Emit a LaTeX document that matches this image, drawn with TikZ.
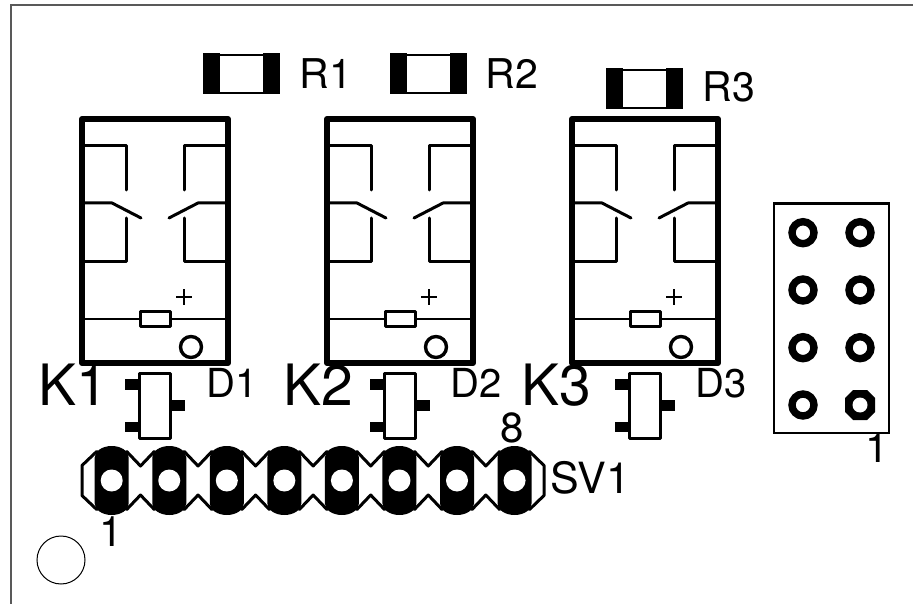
\documentclass[tikz,border=0pt]{standalone}
\usepackage{fontspec}
\setmainfont{TeX Gyre Heros}
\usepackage{tikz}
\usetikzlibrary{positioning}
\tikzset{
  lbl/.style={inner sep=0pt,anchor=base west,font=\fontsize{40}{42}\selectfont},
  lblwide/.style={inner sep=0pt,anchor=base west,font=\fontsize{41}{43}\selectfont},
  lblbig/.style={inner sep=0pt,anchor=base west,font=\fontsize{57}{59}\selectfont},
  lblnum/.style={inner sep=0pt,anchor=base,font=\fontsize{42}{44}\selectfont},
  outline/.style={line width=2pt,color=black!65},
  wire/.style={line width=3pt,line cap=round,line join=round},
  thinwire/.style={line width=2pt},
  relaybox/.style={line width=6pt,line join=round},
  ring/.style={line width=7.4pt}
}
\begin{document}
\begin{tikzpicture}[x=1pt,y=-1pt]
\useasboundingbox (0,0) rectangle (913,604);
% board edge
\draw[outline] (11,604)--(11,5.5)--(913,5.5);
\draw[line width=1pt] (61,560) circle (24);
% resistors
\foreach \n/\dx/\dy/\lx/\ly in {1/0/0/299.5/89,2/187/0/485.5/89,3/403/15/702.5/102} {
\begin{scope}[xshift=\dx pt,yshift=-\dy pt]
\fill (203,53.5) rectangle (220,94.5);
\fill (263,53.5) rectangle (280,94.5);
\draw[thinwire] (220,55)--(263,55);
\draw[thinwire] (220,93)--(263,93);
\end{scope}
\node[lblwide] (R\n) at (\lx,\ly) {R\n};
}
% relays with their diodes
\foreach \n/\dx/\kx/\ddx in {1/0/38/206,2/245/283/450,3/490/521/695} {
\begin{scope}[xshift=\dx pt]
\draw[relaybox] (82,119) rectangle (228,363);
\draw[wire] (82,146)--(126,146)--(126,190);
\draw[wire] (82,203)--(112,203)--(141,218);
\draw[wire] (126,218)--(126,261)--(82,261);
\draw[wire] (228,146)--(184,146)--(184,190);
\draw[wire] (228,203)--(198,203)--(169,218);
\draw[wire] (184,218)--(184,261)--(228,261);
\draw[thinwire] (82,319)--(228,319);
\draw[wire,fill=white] (140.5,311.5) rectangle (170,326.5);
\draw[line width=2.4pt] (176,297)--(192,297);
\draw[line width=2.4pt] (184,289)--(184,305);
\draw[line width=3.4pt] (191,347) circle (10.5);
\fill (125,379) rectangle (140,390);
\fill (125,421.5) rectangle (140,432);
\fill (170,400) rectangle (185,410.5);
\draw[wire,fill=white] (139.5,373) rectangle (170.5,438);
\end{scope}
\node[lblbig] (K\n) at (\kx,405) {K\n};
\node[lbl] (D\n) at (\ddx,397) {D\n};
}
% pin strip
\foreach \i in {0,...,7} {
\pgfmathsetmacro{\cx}{111.7+57.55*\i}
\begin{scope}[xshift=\cx pt]
\fill (-17,457.5) arc[start angle=180,end angle=360,x radius=17,y radius=11.5]
  -- (17,503.5) arc[start angle=0,end angle=180,x radius=17,y radius=11.5] -- cycle;
\fill[white] (0,480.5) circle (11);
\end{scope}
}
\foreach \i in {0,...,6} {
\pgfmathsetmacro{\cx}{111.7+57.55*\i}
\begin{scope}[xshift=\cx pt]
\draw[wire] (15,451.5)--(28.8,466)--(42.6,451.5);
\draw[wire] (15,509.5)--(28.8,495)--(42.6,509.5);
\end{scope}
}
\draw[wire] (96.7,451.5)--(82,465.5)--(82,495.5)--(96.7,509.5);
\draw[wire] (529.5,451.5)--(544,465.5)--(544,495.5)--(529.5,509.5);
\node[lblwide,font=\fontsize{43}{45}\selectfont] (SV1) at (550.5,493) {SV1};
\node[lblnum] (pinA) at (111,546) {1};
\node[lblnum] (pinH) at (512,442) {8};
% header
\draw[line width=2.4pt] (774,203.5) rectangle (889,433);
\foreach \px in {803,860} \foreach \py in {232.7,290,347.7} {
\draw[ring] (\px,\py) circle (11);
}
\draw[ring] (803,405) circle (11);
\fill (853,390)--(867,390)--(875,398)--(875,412)--(867,420)--(853,420)--(845,412)--(845,398)--cycle;
\fill[white] (860,405) circle (7.5);
\node[lblnum] (pinJ) at (877,462) {1};
\end{tikzpicture}
\end{document}
